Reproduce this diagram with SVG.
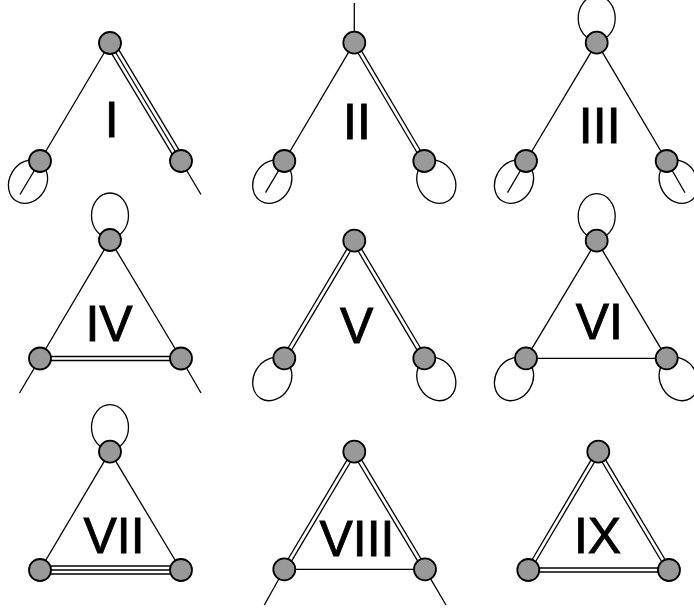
<svg xmlns="http://www.w3.org/2000/svg" width="694" height="611" viewBox="0 0 694 611">
<style>
.e{stroke:#000;stroke-width:1.3;fill:none;stroke-linecap:butt}
.o2{stroke:#000;stroke-width:5.3;fill:none}
.i2{stroke:#fff;stroke-width:2.7;fill:none}
.o3{stroke:#000;stroke-width:9.3;fill:none}
.i3{stroke:#fff;stroke-width:6.7;fill:none}
.lp{stroke:#000;stroke-width:1.3;fill:none}
.n circle{fill:#999;stroke:#000;stroke-width:1.8}
.lbl{font-family:"Liberation Sans",Arial,sans-serif;font-size:50px;fill:#000;stroke:#000;stroke-width:0.9;text-anchor:middle}
</style>
<defs>
<ellipse id="loop" cx="0" cy="0" rx="18.5" ry="22.5"/>
</defs>
<g id="connectors">
<!-- I -->
<line class="e" x1="110" y1="43" x2="40" y2="161"/>
<line class="o3" x1="110" y1="43" x2="181" y2="161"/>
<line class="i3" x1="110" y1="43" x2="181" y2="161"/>
<line class="e" x1="110" y1="43" x2="181" y2="161"/>
<line class="e" x1="40" y1="161" x2="20" y2="194.5"/>
<line class="e" x1="181" y1="161" x2="201" y2="194.5"/>
<use href="#loop" class="lp" transform="translate(28,181.8) rotate(30)"/>
<!-- II -->
<line class="e" x1="354.3" y1="42.7" x2="284.3" y2="161"/>
<line class="o2" x1="354.3" y1="42.7" x2="424.3" y2="161"/>
<line class="i2" x1="354.3" y1="42.7" x2="424.3" y2="161"/>
<line class="e" x1="354.3" y1="42.7" x2="354.3" y2="3"/>
<line class="e" x1="284.3" y1="161" x2="265.5" y2="192.7"/>
<use href="#loop" class="lp" transform="translate(272.3,181.8) rotate(30)"/>
<use href="#loop" class="lp" transform="translate(436.3,181.8) rotate(-30)"/>
<!-- III -->
<line class="e" x1="596.7" y1="42.7" x2="526" y2="161"/>
<line class="e" x1="596.7" y1="42.7" x2="666.7" y2="161"/>
<line class="e" x1="526" y1="161" x2="507.5" y2="192.7"/>
<line class="e" x1="666.7" y1="161" x2="685" y2="192.7"/>
<use href="#loop" class="lp" transform="translate(596.7,18.2)"/>
<use href="#loop" class="lp" transform="translate(514,181.8) rotate(30)"/>
<use href="#loop" class="lp" transform="translate(678.7,181.8) rotate(-30)"/>
<!-- IV -->
<line class="e" x1="110" y1="240" x2="40" y2="358.5"/>
<line class="e" x1="110" y1="240" x2="181" y2="358.5"/>
<line class="o2" x1="40" y1="358.5" x2="181" y2="358.5"/>
<line class="i2" x1="40" y1="358.5" x2="181" y2="358.5"/>
<line class="e" x1="40" y1="358.5" x2="19.5" y2="393"/>
<line class="e" x1="181" y1="358.5" x2="201" y2="393"/>
<use href="#loop" class="lp" transform="translate(110,215.5)"/>
<!-- V -->
<line class="o2" x1="354.3" y1="240.7" x2="284.3" y2="358.3"/>
<line class="i2" x1="354.3" y1="240.7" x2="284.3" y2="358.3"/>
<line class="o2" x1="354.3" y1="240.7" x2="424.3" y2="358.3"/>
<line class="i2" x1="354.3" y1="240.7" x2="424.3" y2="358.3"/>
<use href="#loop" class="lp" transform="translate(272.3,379.1) rotate(30)"/>
<use href="#loop" class="lp" transform="translate(436.3,379.1) rotate(-30)"/>
<!-- VI -->
<line class="e" x1="596.7" y1="240.7" x2="526" y2="358.3"/>
<line class="e" x1="596.7" y1="240.7" x2="666.7" y2="358.3"/>
<line class="e" x1="526" y1="358.3" x2="666.7" y2="358.3"/>
<use href="#loop" class="lp" transform="translate(596.7,216.2)"/>
<use href="#loop" class="lp" transform="translate(514,379.1) rotate(30)"/>
<use href="#loop" class="lp" transform="translate(678.7,379.1) rotate(-30)"/>
<!-- VII -->
<line class="e" x1="110" y1="451.7" x2="40" y2="570"/>
<line class="e" x1="110" y1="451.7" x2="181" y2="570"/>
<line class="o3" x1="40" y1="570" x2="181" y2="570"/>
<line class="i3" x1="40" y1="570" x2="181" y2="570"/>
<line class="e" x1="40" y1="570" x2="181" y2="570"/>
<use href="#loop" class="lp" transform="translate(110,427.2)"/>
<!-- VIII -->
<line class="o2" x1="354.3" y1="451.7" x2="284.3" y2="569.3"/>
<line class="i2" x1="354.3" y1="451.7" x2="284.3" y2="569.3"/>
<line class="o2" x1="354.3" y1="451.7" x2="425" y2="569.3"/>
<line class="i2" x1="354.3" y1="451.7" x2="425" y2="569.3"/>
<line class="e" x1="284.3" y1="569.3" x2="425" y2="569.3"/>
<line class="e" x1="284.3" y1="569.3" x2="264.3" y2="605"/>
<line class="e" x1="425" y1="569.3" x2="446" y2="605"/>
<!-- IX -->
<line class="o2" x1="598.3" y1="451.7" x2="528.3" y2="570"/>
<line class="i2" x1="598.3" y1="451.7" x2="528.3" y2="570"/>
<line class="o2" x1="598.3" y1="451.7" x2="669" y2="570"/>
<line class="i2" x1="598.3" y1="451.7" x2="669" y2="570"/>
<line class="o2" x1="528.3" y1="570" x2="669" y2="570"/>
<line class="i2" x1="528.3" y1="570" x2="669" y2="570"/>
</g>
<g id="nodes">
<g id="I-T" class="n"><circle cx="110" cy="43" r="11"/></g>
<g id="I-L" class="n"><circle cx="40" cy="161" r="11"/></g>
<g id="I-R" class="n"><circle cx="181" cy="161" r="11"/></g>
<g id="II-T" class="n"><circle cx="354.3" cy="42.7" r="11"/></g>
<g id="II-L" class="n"><circle cx="284.3" cy="161" r="11"/></g>
<g id="II-R" class="n"><circle cx="424.3" cy="161" r="11"/></g>
<g id="III-T" class="n"><circle cx="596.7" cy="42.7" r="11"/></g>
<g id="III-L" class="n"><circle cx="526" cy="161" r="11"/></g>
<g id="III-R" class="n"><circle cx="666.7" cy="161" r="11"/></g>
<g id="IV-T" class="n"><circle cx="110" cy="240" r="11"/></g>
<g id="IV-L" class="n"><circle cx="40" cy="358.5" r="11"/></g>
<g id="IV-R" class="n"><circle cx="181" cy="358.5" r="11"/></g>
<g id="V-T" class="n"><circle cx="354.3" cy="240.7" r="11"/></g>
<g id="V-L" class="n"><circle cx="284.3" cy="358.3" r="11"/></g>
<g id="V-R" class="n"><circle cx="424.3" cy="358.3" r="11"/></g>
<g id="VI-T" class="n"><circle cx="596.7" cy="240.7" r="11"/></g>
<g id="VI-L" class="n"><circle cx="526" cy="358.3" r="11"/></g>
<g id="VI-R" class="n"><circle cx="666.7" cy="358.3" r="11"/></g>
<g id="VII-T" class="n"><circle cx="110" cy="451.7" r="11"/></g>
<g id="VII-L" class="n"><circle cx="40" cy="570" r="11"/></g>
<g id="VII-R" class="n"><circle cx="181" cy="570" r="11"/></g>
<g id="VIII-T" class="n"><circle cx="354.3" cy="451.7" r="11"/></g>
<g id="VIII-L" class="n"><circle cx="284.3" cy="569.3" r="11"/></g>
<g id="VIII-R" class="n"><circle cx="425" cy="569.3" r="11"/></g>
<g id="IX-T" class="n"><circle cx="598.3" cy="451.7" r="11"/></g>
<g id="IX-L" class="n"><circle cx="528.3" cy="570" r="11"/></g>
<g id="IX-R" class="n"><circle cx="669" cy="570" r="11"/></g>
</g>
<g id="labels">
<text class="lbl" x="111.7" y="136.7">I</text>
<text class="lbl" x="357" y="139.3">II</text>
<text class="lbl" x="599.7" y="143.3">III</text>
<text class="lbl" x="109" y="340.7">IV</text>
<text class="lbl" x="356.8" y="342.7">V</text>
<text class="lbl" x="599.4" y="339.3">VI</text>
<text class="lbl" x="114" y="552.7">VII</text>
<text class="lbl" x="357" y="555.7">VIII</text>
<text class="lbl" x="597.6" y="552.7">IX</text>
</g>
</svg>
